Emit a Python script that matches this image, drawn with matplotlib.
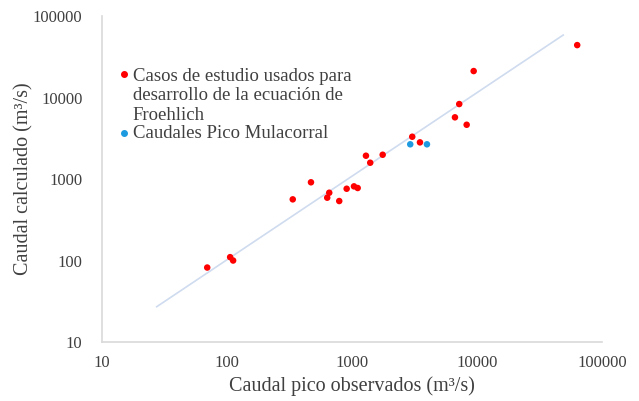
import numpy as np
import matplotlib.pyplot as plt
import matplotlib as mpl

# Froehlich study cases: observed peak flow vs computed flow (m3/s)
casos_obs = [69.5, 106, 112, 336, 470, 658, 634, 791, 907, 1038, 1111,
             1294, 1400, 1761, 3036, 3500, 6668, 7215, 8274, 9414, 63400]
casos_calc = [82, 110, 100, 563, 912, 679, 590, 537, 760, 813, 776,
              1932, 1585, 1986, 3304, 2818, 5716, 8318, 4634, 21130, 44000]

# Mulacorral peak flows
mula_obs = [2926, 3981]
mula_calc = [2668, 2668]

# trend line ends
trend_x = [27.4, 49000]
trend_y = [27.1, 58500]

mpl.rcParams['font.family'] = 'serif'
mpl.rcParams['font.serif'] = ['Liberation Serif', 'DejaVu Serif']

fig = plt.figure(figsize=(6.39, 4.01), dpi=100)
ax = fig.add_axes([0.1596, 0.1471, 0.7824, 0.8129])

ax.plot(trend_x, trend_y, color='#cfdbef', linewidth=1.2, zorder=1)
ax.scatter(casos_obs, casos_calc, s=22, color='#ff0000', edgecolors='none', zorder=3)
ax.scatter(mula_obs, mula_calc, s=22, color='#1e9be0', edgecolors='none', zorder=3)

ax.set_xscale('log')
ax.set_yscale('log')
ax.set_xlim(10, 100000)
ax.set_ylim(10, 100000)
ticks = [10, 100, 1000, 10000, 100000]
ax.set_xticks(ticks)
ax.set_yticks(ticks)
ax.set_xticklabels([str(t) for t in ticks])
ax.set_yticklabels([str(t) for t in ticks])
ax.minorticks_off()
ax.tick_params(axis='x', length=0, labelsize=12, colors='#404040', pad=9)
ax.tick_params(axis='y', length=0, labelsize=12, colors='#404040', pad=14)

for s in ['top', 'right']:
    ax.spines[s].set_visible(False)
for s in ['left', 'bottom']:
    ax.spines[s].set_color('#d9d9d9')
    ax.spines[s].set_linewidth(1.2)

ax.set_xlabel('Caudal pico observados (m³/s)', fontsize=14.5, color='#404040')
ax.set_ylabel('Caudal calculado (m³/s)', fontsize=14.5, color='#404040')
ax.xaxis.set_label_coords(0.5, -0.105)
ax.yaxis.set_label_coords(-0.138, 0.5)

# legend drawn by hand so the marker sits on the first line of text
fig.text(0.208, 1 - 96 / 401, 'Casos de estudio usados para\ndesarrollo de la ecuación de\nFroehlich',
         fontsize=13.5, color='#404040', va='center', ha='left', linespacing=1.18)
fig.text(0.208, 1 - 133 / 401, 'Caudales Pico Mulacorral', fontsize=13.5, color='#404040',
         va='center', ha='left')
fig.lines.append(plt.Line2D([0.194], [1 - 74 / 401], marker='o', markersize=4,
                            color='#ff0000', transform=fig.transFigure, linestyle='none'))
fig.lines.append(plt.Line2D([0.194], [1 - 133 / 401], marker='o', markersize=4,
                            color='#1e9be0', transform=fig.transFigure, linestyle='none'))

fig.savefig('out.png', dpi=100)
